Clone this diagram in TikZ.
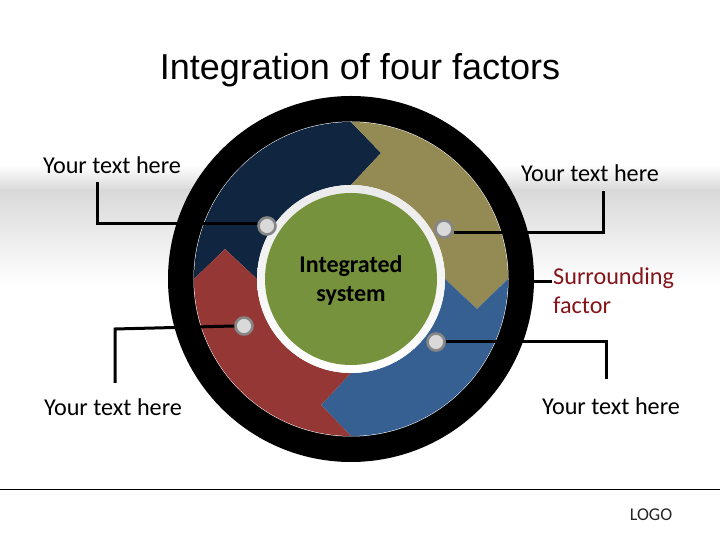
\documentclass[tikz,border=0pt]{standalone}
\usepackage{fontspec}
\setmainfont{Carlito}
\newfontfamily\titlefont{Liberation Sans}
\definecolor{segnavy}{HTML}{10253F}
\definecolor{segolive}{HTML}{948A54}
\definecolor{segblue}{HTML}{366092}
\definecolor{segred}{HTML}{953735}
\definecolor{hubgreen}{HTML}{76923C}
\definecolor{bandgray}{HTML}{D9D9D9}
\definecolor{dotgray}{HTML}{D9D9D9}
\definecolor{labelred}{HTML}{85141A}
\tikzset{
  dotnode/.style={circle,draw=gray!95,fill=dotgray,line width=2.6pt,minimum size=17pt,inner sep=0pt},
  leader/.style={line width=3pt,black,line join=miter},
  textlabel/.style={font=\fontsize{24.2}{29}\selectfont,inner sep=0pt}
}
\begin{document}
\begin{tikzpicture}[x=1pt,y=1pt]
  \useasboundingbox (0,0) rectangle (720,540);
  \shade [top color=white,bottom color=bandgray] (0,375) rectangle (720,350);
  \shade [top color=bandgray,bottom color=white] (0,350) rectangle (720,255);
  \draw [line width=1pt] (0,50) -- (720,50);
  \node (title) at (360,469.5) {\titlefont\fontsize{36}{40}\selectfont Integration of four factors};
  \begin{scope}[shift={(351,261)}]
    \fill [black] (0,0) circle (183);
    \fill [white] (0,0) circle (157.5);
    \foreach \segcol/\segang in {segnavy/0,segolive/-90,segblue/-180,segred/-270} {
      \fill [\segcol,rotate=\segang]
      (-157,0) arc [start angle=180,end angle=90,radius=157] --
      (30,126) --
      (0,94) arc [start angle=90,end angle=180,radius=94] --
      (-126,30) -- cycle;
    }
    \shade [top color=black!8,bottom color=white] (0,0) circle (94);
    \fill [hubgreen] (0,0) circle (86);
  \end{scope}
  \node [align=center,textlabel,font=\fontsize{24}{29}\selectfont\bfseries] (hub) at (351,260) {Integrated\\system};
  \node [dotnode] (dotnavy) at (267,314) {};
  \node [dotnode] (dotolive) at (444,311) {};
  \node [dotnode] (dotblue) at (436,198) {};
  \node [dotnode] (dotred) at (244,214) {};
  \node [textlabel] (labnavy) at (112,375) {Your text here};
  \node [textlabel] (labolive) at (590,367) {Your text here};
  \node [textlabel] (labblue) at (611,134) {Your text here};
  \node [textlabel] (labred) at (113,133) {Your text here};
  \node [textlabel,anchor=west,align=left,text=labelred] (labsurround) at (553,249) {Surrounding\\factor};
  \node [font=\fontsize{18}{20}\selectfont,text=black!85,inner sep=0pt] (logo) at (651,25) {LOGO};
  \coordinate (endnavy) at (97,358);
  \coordinate (endolive) at (603,349);
  \coordinate (endblue) at (606,161);
  \coordinate (endred) at (115,157);
  \coordinate (ringedge) at (533,258);
  \coordinate (stubend) at (552,258);
  \draw [leader] ([yshift=2pt]dotnavy.west) -- (97,316) -- (endnavy);
  \draw [leader] ([yshift=-3.3pt]dotolive.east) -- (603,307.7) -- (endolive);
  \draw [leader] (dotblue.east) -- (606,198) -- (endblue);
  \draw [leader] (dotred.west) -- (115,211) -- (endred);
  \draw [leader] (ringedge) -- (stubend);
\end{tikzpicture}
\end{document}
